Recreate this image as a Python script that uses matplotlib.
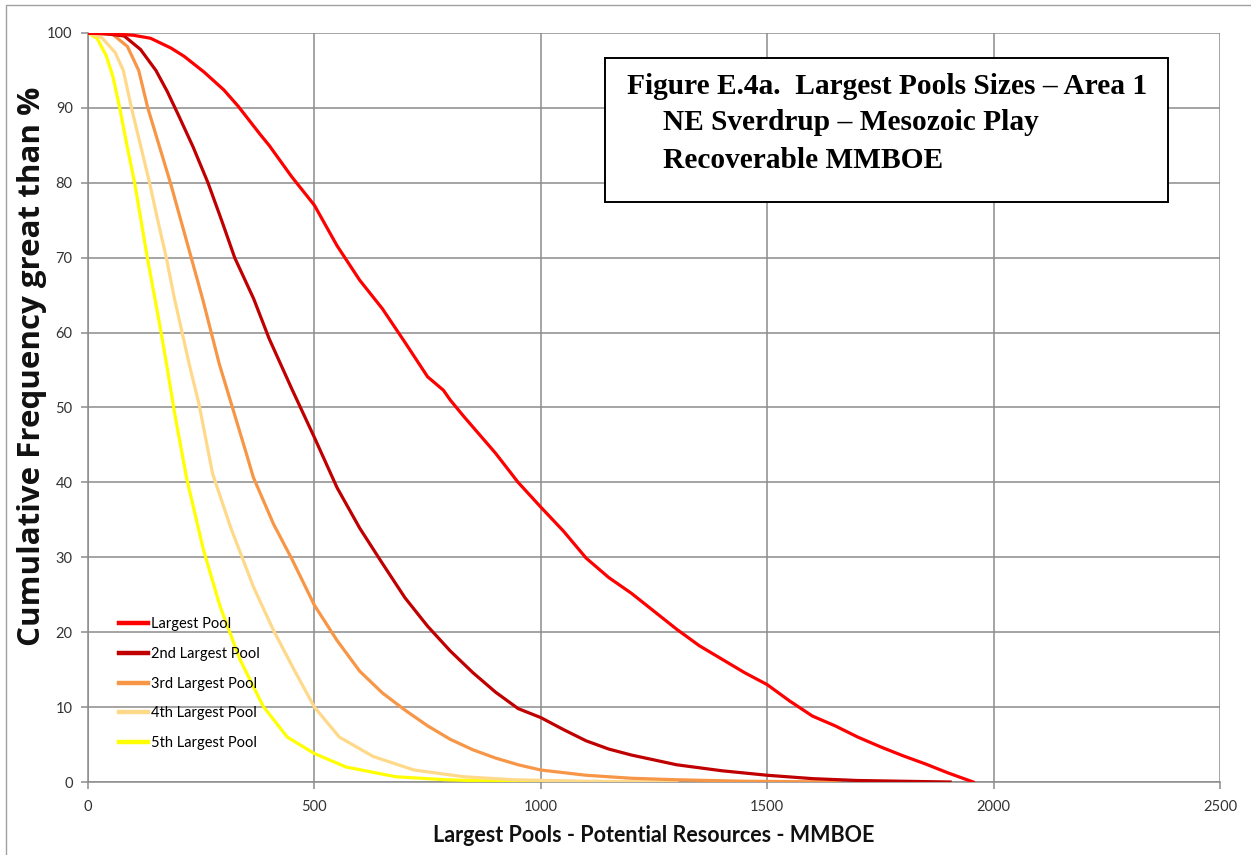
import matplotlib
matplotlib.use("Agg")
import matplotlib.pyplot as plt
from matplotlib.patches import Rectangle
from matplotlib.lines import Line2D

# ---- data ----
largest_x = [0, 50, 100, 138, 183, 212, 256, 300, 332, 381, 400, 450, 500, 550, 600, 650,
             700, 750, 785, 800, 830, 900, 950, 1000, 1050, 1100, 1150, 1200, 1250, 1300, 1350,
             1400, 1450, 1500, 1550, 1600, 1650, 1700, 1750, 1800, 1850, 1900, 1955]
largest_y = [100, 99.9, 99.7, 99.3, 98.0, 96.9, 94.8, 92.4, 90.2, 86.4, 85.0, 80.8, 77.0, 71.6,
             67.0, 63.2, 58.7, 54.1, 52.3, 51.0, 48.8, 43.9, 40.0, 36.7, 33.5, 29.9, 27.3,
             25.2, 22.8, 20.4, 18.2, 16.4, 14.6, 13.0, 10.8, 8.8, 7.5, 6.0, 4.7, 3.5, 2.4, 1.2, 0]

second_x = [0, 40, 80, 116, 150, 175, 200, 232, 265, 295, 324, 366, 400, 450, 500, 550,
            600, 650, 700, 750, 800, 850, 900, 950, 1000, 1050, 1100, 1150, 1200, 1300, 1400,
            1500, 1600, 1700, 1800, 1904]
second_y = [100, 99.9, 99.6, 97.8, 95.0, 92.2, 89.0, 84.8, 80.0, 75.0, 70.0, 64.5, 59.2,
            52.5, 46.0, 39.3, 33.9, 29.2, 24.6, 20.8, 17.5, 14.6, 12.0, 9.8, 8.6, 7.0, 5.5, 4.4,
            3.6, 2.3, 1.5, 0.9, 0.45, 0.2, 0.1, 0]

third_x = [0, 55, 87, 112, 132, 157, 182, 205, 228, 254, 290, 315, 350, 365, 410, 450,
           500, 550, 600, 650, 700, 750, 800, 850, 900, 950, 1000, 1100, 1200, 1300, 1450, 1661]
third_y = [100, 99.8, 98.2, 95.0, 90.0, 85.0, 80.0, 75.0, 70.0, 64.3, 55.8, 50.8, 43.8,
           40.7, 34.4, 29.8, 23.6, 18.9, 14.8, 11.9, 9.6, 7.5, 5.7, 4.3, 3.2, 2.3, 1.6, 0.9, 0.5,
           0.3, 0.1, 0]

fourth_x = [0, 30, 60, 78, 96, 116, 136, 154, 173, 190, 225, 245, 275, 315, 365, 410, 455, 500,
            555, 630, 720, 830, 940, 1100, 1301]
fourth_y = [100, 99.4, 97.4, 95.0, 90.0, 85.0, 80.0, 75.0, 70.0, 64.8, 55.4, 50.5, 41.2, 34.0,
            26.1, 20.2, 15.0, 10.0, 6.0, 3.4, 1.6, 0.7, 0.3, 0.1, 0]

fifth_x = [0, 20, 40, 55, 70, 86, 103, 117, 131, 147, 160, 174, 192, 218, 255, 292, 336, 387,
           440, 500, 570, 680, 790, 900, 1038]
fifth_y = [100, 99.3, 97.0, 94.2, 90.0, 85.0, 80.0, 75.0, 70.0, 64.8, 60.5, 55.6, 49.0, 40.5,
           31.0, 23.4, 16.3, 10.1, 6.0, 3.8, 2.0, 0.7, 0.3, 0.1, 0]

series_labels = ["Largest Pool", "2nd Largest Pool", "3rd Largest Pool",
                 "4th Largest Pool", "5th Largest Pool"]
series_colors = ["#FF0000", "#C00000", "#F79646", "#FFD98A", "#FFFF00"]

x_ticks = [0, 500, 1000, 1500, 2000, 2500]
y_ticks = [0, 10, 20, 30, 40, 50, 60, 70, 80, 90, 100]

title_lines = ["Figure E.4a.  Largest Pools Sizes \u2013 Area 1",
               "NE Sverdrup \u2013 Mesozoic Play",
               "Recoverable MMBOE"]

# ---- figure ----
W, H = 1251, 855
fig = plt.figure(figsize=(W / 100, H / 100), dpi=100)
ax = fig.add_axes([88 / W, 1 - 782 / H, (1220 - 88) / W, (782 - 33) / H])

all_series = [(largest_x, largest_y), (second_x, second_y), (third_x, third_y),
              (fourth_x, fourth_y), (fifth_x, fifth_y)]
for (xs, ys), lab, col in reversed(list(zip(all_series, series_labels, series_colors))):
    ax.plot(xs, ys, color=col, lw=2.3, label=lab, solid_joinstyle="round", zorder=3)

ax.set_xlim(0, 2500)
ax.set_ylim(0, 100)
ax.set_xticks(x_ticks)
ax.set_yticks(y_ticks)
ax.grid(True, color="#8c8c8c", lw=1.1, zorder=1)
for s in ax.spines.values():
    s.set_color("#8c8c8c")
    s.set_linewidth(1.1)
ax.spines["top"].set_visible(False)
ax.spines["right"].set_visible(False)
ax.tick_params(axis="both", colors="#8c8c8c", length=5, width=1.1, labelcolor="#333333",
               labelsize=10.5)
for lbl in ax.get_xticklabels() + ax.get_yticklabels():
    lbl.set_family("Lato")
ax.tick_params(axis="x", pad=8)
ax.tick_params(axis="y", pad=6)

ax.set_xlabel("Largest Pools - Potential Resources - MMBOE", fontsize=15.5,
              fontweight="bold", family="Lato", labelpad=8, color="#111111")
ax.set_ylabel("Cumulative Frequency great than %", fontsize=22.5,
              fontweight="bold", family="Open Sans", color="#111111")
ax.yaxis.set_label_coords(-0.036, 0.555)

handles = [Line2D([0], [0], color=c, lw=3.2) for c in series_colors]
leg = ax.legend(handles, series_labels, loc="lower left", bbox_to_anchor=(0.0155, 0.025),
                frameon=False, handlelength=2.0, handletextpad=0.2,
                labelspacing=1.08, prop={"family": "Lato", "size": 10.5})

# title box
box = Rectangle(((605 - 88) / 1132, (782 - 202) / 749), (1168 - 605) / 1132, (202 - 58) / 749,
                transform=ax.transAxes, facecolor="white", edgecolor="black", lw=1.4, zorder=5)
ax.add_patch(box)
title_pos = [(627, 86), (663, 123), (663, 160)]
for (px, py), t in zip(title_pos, title_lines):
    ax.text((px - 88) / 1132, (782 - py) / 749, t, transform=ax.transAxes,
            family="Liberation Serif", fontweight="bold", fontsize=21.2, va="center", ha="left",
            zorder=6)

# outer chart border
fig.patches.append(Rectangle((6 / W, -0.01), 1.02, 1 - 5 / H + 0.01, transform=fig.transFigure,
                             fill=False, edgecolor="#a0a0a0", lw=1.0))

fig.savefig("out.png", dpi=100)
